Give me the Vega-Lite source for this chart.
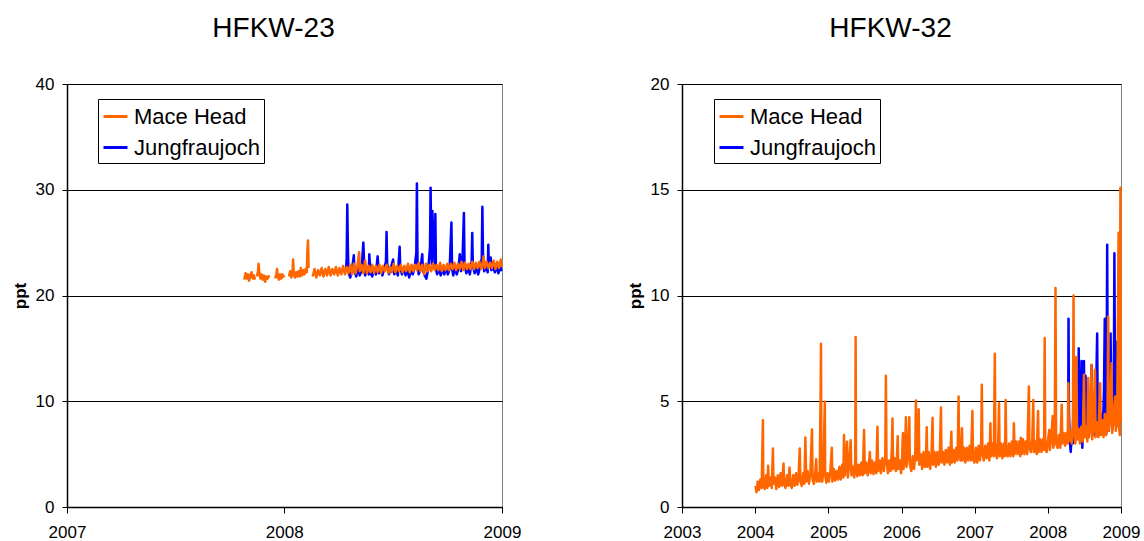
{
"$schema":"https://vega.github.io/schema/vega-lite/v6.json",
"padding":{"left":10,"top":14,"right":0,"bottom":0},
"bounds":"flush",
"spacing":180,
"config":{"font":"Liberation Sans","view":{"stroke":"#808080","strokeWidth":1},"axis":{"labelColor":"#000","titleColor":"#000","domainColor":"#000","tickColor":"#000","gridColor":"#000","gridWidth":1,"domainWidth":1.5,"labelFontSize":17,"titleFontSize":17},"title":{"color":"#000"}},
"resolve":{"scale":{"color":"independent"}},
"datasets":{
"mh23":[
{"t":"2007-10-26","v":21.5,"g":1},{"t":"2007-10-28","v":22.1,"g":1},{"t":"2007-10-30","v":21.6,"g":1},{"t":"2007-11-01","v":22.0,"g":1},{"t":"2007-11-03","v":21.4,"g":1},{"t":"2007-11-05","v":21.9,"g":1},{"t":"2007-11-07","v":22.2,"g":1},{"t":"2007-11-09","v":21.6,"g":1},{"t":"2007-11-11","v":21.9,"g":1},{"t":"2007-11-13","v":21.5,"g":1},
{"t":"2007-11-16","v":21.8,"g":2},{"t":"2007-11-18","v":22.3,"g":2},{"t":"2007-11-19","v":23.0,"g":2},{"t":"2007-11-20","v":22.2,"g":2},{"t":"2007-11-22","v":21.6,"g":2},{"t":"2007-11-24","v":22.0,"g":2},{"t":"2007-11-26","v":21.5,"g":2},{"t":"2007-11-28","v":21.9,"g":2},{"t":"2007-11-30","v":21.3,"g":2},{"t":"2007-12-02","v":21.8,"g":2},{"t":"2007-12-04","v":21.6,"g":2},{"t":"2007-12-07","v":21.9,"g":2},
{"t":"2007-12-17","v":21.6,"g":3},{"t":"2007-12-19","v":22.1,"g":3},{"t":"2007-12-20","v":22.5,"g":3},{"t":"2007-12-21","v":21.9,"g":3},{"t":"2007-12-23","v":21.5,"g":3},{"t":"2007-12-25","v":22.0,"g":3},{"t":"2007-12-27","v":21.6,"g":3},{"t":"2007-12-29","v":22.0,"g":3},{"t":"2008-01-01","v":21.7,"g":3},
{"t":"2008-01-09","v":21.8,"g":4},{"t":"2008-01-11","v":22.3,"g":4},{"t":"2008-01-13","v":21.7,"g":4},{"t":"2008-01-15","v":22.2,"g":4},{"t":"2008-01-16","v":23.4,"g":4},{"t":"2008-01-17","v":22.1,"g":4},{"t":"2008-01-19","v":21.7,"g":4},{"t":"2008-01-21","v":22.2,"g":4},{"t":"2008-01-23","v":21.8,"g":4},{"t":"2008-01-25","v":22.3,"g":4},{"t":"2008-01-27","v":21.8,"g":4},{"t":"2008-01-29","v":22.6,"g":4},{"t":"2008-01-31","v":21.9,"g":4},{"t":"2008-02-02","v":22.4,"g":4},{"t":"2008-02-04","v":22.0,"g":4},{"t":"2008-02-06","v":22.5,"g":4},{"t":"2008-02-08","v":22.2,"g":4},{"t":"2008-02-09","v":24.2,"g":4},{"t":"2008-02-10","v":25.2,"g":4},{"t":"2008-02-11","v":22.6,"g":4},
{"t":"2008-02-18","v":21.8,"g":5},{"t":"2008-02-21","v":22.5,"g":5},{"t":"2008-02-24","v":21.7,"g":5},{"t":"2008-02-27","v":22.4,"g":5},{"t":"2008-03-01","v":21.9,"g":5},{"t":"2008-03-04","v":22.6,"g":5},{"t":"2008-03-07","v":21.8,"g":5},{"t":"2008-03-10","v":22.5,"g":5},{"t":"2008-03-13","v":21.9,"g":5},{"t":"2008-03-16","v":22.7,"g":5},{"t":"2008-03-19","v":21.9,"g":5},{"t":"2008-03-22","v":22.5,"g":5},{"t":"2008-03-25","v":22.0,"g":5},{"t":"2008-03-28","v":22.7,"g":5},{"t":"2008-03-31","v":21.9,"g":5},{"t":"2008-04-03","v":22.6,"g":5},{"t":"2008-04-06","v":22.0,"g":5},{"t":"2008-04-09","v":22.8,"g":5},{"t":"2008-04-12","v":22.0,"g":5},{"t":"2008-04-15","v":22.7,"g":5},{"t":"2008-04-18","v":22.1,"g":5},{"t":"2008-04-21","v":22.9,"g":5},{"t":"2008-04-24","v":22.0,"g":5},{"t":"2008-04-27","v":23.0,"g":5},{"t":"2008-04-30","v":22.1,"g":5},{"t":"2008-05-03","v":22.8,"g":5},{"t":"2008-05-06","v":24.1,"g":5},{"t":"2008-05-07","v":22.3,"g":5},{"t":"2008-05-10","v":22.9,"g":5},{"t":"2008-05-13","v":22.1,"g":5},{"t":"2008-05-16","v":23.3,"g":5},{"t":"2008-05-19","v":22.1,"g":5},{"t":"2008-05-22","v":22.8,"g":5},{"t":"2008-05-25","v":22.2,"g":5},{"t":"2008-05-28","v":22.9,"g":5},{"t":"2008-05-31","v":22.1,"g":5},{"t":"2008-06-03","v":22.8,"g":5},{"t":"2008-06-06","v":22.2,"g":5},{"t":"2008-06-09","v":22.9,"g":5},{"t":"2008-06-12","v":22.1,"g":5},{"t":"2008-06-15","v":22.8,"g":5},{"t":"2008-06-18","v":22.3,"g":5},{"t":"2008-06-21","v":22.9,"g":5},{"t":"2008-06-24","v":22.1,"g":5},{"t":"2008-06-27","v":22.7,"g":5},{"t":"2008-06-30","v":22.2,"g":5},{"t":"2008-07-03","v":23.0,"g":5},{"t":"2008-07-06","v":22.2,"g":5},{"t":"2008-07-09","v":22.8,"g":5},{"t":"2008-07-12","v":22.3,"g":5},{"t":"2008-07-15","v":22.9,"g":5},{"t":"2008-07-18","v":22.2,"g":5},{"t":"2008-07-21","v":22.8,"g":5},{"t":"2008-07-24","v":22.3,"g":5},{"t":"2008-07-27","v":23.0,"g":5},{"t":"2008-07-30","v":22.2,"g":5},{"t":"2008-08-02","v":22.9,"g":5},{"t":"2008-08-05","v":22.3,"g":5},{"t":"2008-08-08","v":22.9,"g":5},{"t":"2008-08-11","v":22.4,"g":5},{"t":"2008-08-14","v":23.1,"g":5},{"t":"2008-08-17","v":22.3,"g":5},{"t":"2008-08-20","v":22.9,"g":5},{"t":"2008-08-23","v":22.0,"g":5},{"t":"2008-08-26","v":23.0,"g":5},{"t":"2008-08-29","v":22.3,"g":5},{"t":"2008-09-01","v":22.9,"g":5},{"t":"2008-09-04","v":22.3,"g":5},{"t":"2008-09-07","v":23.0,"g":5},{"t":"2008-09-10","v":22.4,"g":5},{"t":"2008-09-13","v":22.9,"g":5},{"t":"2008-09-16","v":22.4,"g":5},{"t":"2008-09-19","v":23.1,"g":5},{"t":"2008-09-22","v":22.3,"g":5},{"t":"2008-09-25","v":22.9,"g":5},{"t":"2008-09-28","v":22.4,"g":5},{"t":"2008-10-01","v":23.0,"g":5},{"t":"2008-10-04","v":22.4,"g":5},{"t":"2008-10-07","v":23.0,"g":5},{"t":"2008-10-10","v":22.5,"g":5},{"t":"2008-10-13","v":23.1,"g":5},{"t":"2008-10-16","v":22.4,"g":5},{"t":"2008-10-19","v":23.0,"g":5},{"t":"2008-10-22","v":22.5,"g":5},{"t":"2008-10-25","v":23.2,"g":5},{"t":"2008-10-28","v":22.4,"g":5},{"t":"2008-10-31","v":23.1,"g":5},{"t":"2008-11-03","v":22.5,"g":5},{"t":"2008-11-06","v":23.0,"g":5},{"t":"2008-11-09","v":22.5,"g":5},{"t":"2008-11-12","v":23.2,"g":5},{"t":"2008-11-15","v":22.5,"g":5},{"t":"2008-11-18","v":23.1,"g":5},{"t":"2008-11-21","v":22.6,"g":5},{"t":"2008-11-24","v":23.2,"g":5},{"t":"2008-11-27","v":22.5,"g":5},{"t":"2008-11-30","v":23.2,"g":5},{"t":"2008-12-01","v":23.7,"g":5},{"t":"2008-12-03","v":22.6,"g":5},{"t":"2008-12-06","v":23.2,"g":5},{"t":"2008-12-09","v":22.6,"g":5},{"t":"2008-12-12","v":23.1,"g":5},{"t":"2008-12-15","v":22.6,"g":5},{"t":"2008-12-18","v":23.3,"g":5},{"t":"2008-12-21","v":22.5,"g":5},{"t":"2008-12-24","v":23.2,"g":5},{"t":"2008-12-27","v":22.6,"g":5},{"t":"2008-12-30","v":23.4,"g":5},{"t":"2008-12-31","v":22.7,"g":5}
],
"jf23":[
{"t":"2008-04-14","v":22.6},{"t":"2008-04-15","v":23.5},{"t":"2008-04-16","v":28.6},{"t":"2008-04-17","v":24.5},{"t":"2008-04-18","v":22.2},{"t":"2008-04-21","v":21.7},{"t":"2008-04-24","v":22.5},{"t":"2008-04-27","v":23.8},{"t":"2008-04-28","v":22.3},{"t":"2008-05-01","v":21.8},{"t":"2008-05-04","v":22.6},{"t":"2008-05-07","v":21.9},{"t":"2008-05-10","v":22.4},{"t":"2008-05-13","v":25.0},{"t":"2008-05-14","v":23.5},{"t":"2008-05-16","v":21.9},{"t":"2008-05-19","v":22.5},{"t":"2008-05-22","v":22.0},{"t":"2008-05-23","v":23.9},{"t":"2008-05-25","v":22.1},{"t":"2008-05-28","v":21.8},{"t":"2008-05-31","v":22.5},{"t":"2008-06-03","v":22.0},{"t":"2008-06-06","v":23.7},{"t":"2008-06-08","v":22.1},{"t":"2008-06-11","v":22.6},{"t":"2008-06-14","v":21.9},{"t":"2008-06-17","v":22.5},{"t":"2008-06-20","v":23.2},{"t":"2008-06-21","v":26.0},{"t":"2008-06-22","v":23.0},{"t":"2008-06-25","v":22.0},{"t":"2008-06-28","v":22.6},{"t":"2008-07-02","v":23.4},{"t":"2008-07-04","v":22.0},{"t":"2008-07-07","v":22.5},{"t":"2008-07-10","v":21.9},{"t":"2008-07-13","v":24.6},{"t":"2008-07-14","v":22.6},{"t":"2008-07-17","v":22.0},{"t":"2008-07-20","v":22.6},{"t":"2008-07-23","v":21.9},{"t":"2008-07-26","v":22.5},{"t":"2008-07-29","v":21.7},{"t":"2008-08-01","v":22.4},{"t":"2008-08-04","v":22.0},{"t":"2008-08-07","v":22.6},{"t":"2008-08-10","v":24.0},{"t":"2008-08-11","v":30.6},{"t":"2008-08-12","v":23.2},{"t":"2008-08-14","v":22.0},{"t":"2008-08-17","v":22.5},{"t":"2008-08-20","v":23.9},{"t":"2008-08-21","v":22.4},{"t":"2008-08-24","v":21.9},{"t":"2008-08-27","v":21.6},{"t":"2008-08-30","v":22.5},{"t":"2008-09-02","v":24.5},{"t":"2008-09-03","v":30.2},{"t":"2008-09-04","v":25.0},{"t":"2008-09-05","v":23.0},{"t":"2008-09-06","v":28.0},{"t":"2008-09-08","v":24.5},{"t":"2008-09-10","v":23.0},{"t":"2008-09-11","v":27.7},{"t":"2008-09-12","v":22.5},{"t":"2008-09-14","v":22.0},{"t":"2008-09-17","v":22.6},{"t":"2008-09-20","v":21.9},{"t":"2008-09-23","v":22.5},{"t":"2008-09-26","v":22.0},{"t":"2008-09-29","v":22.6},{"t":"2008-10-02","v":22.0},{"t":"2008-10-05","v":22.5},{"t":"2008-10-08","v":26.9},{"t":"2008-10-09","v":22.6},{"t":"2008-10-11","v":21.9},{"t":"2008-10-14","v":22.6},{"t":"2008-10-17","v":22.0},{"t":"2008-10-20","v":22.6},{"t":"2008-10-22","v":23.9},{"t":"2008-10-24","v":22.3},{"t":"2008-10-27","v":24.0},{"t":"2008-10-29","v":27.8},{"t":"2008-10-30","v":23.0},{"t":"2008-11-02","v":22.1},{"t":"2008-11-05","v":22.6},{"t":"2008-11-08","v":22.0},{"t":"2008-11-11","v":23.3},{"t":"2008-11-12","v":25.9},{"t":"2008-11-13","v":22.8},{"t":"2008-11-16","v":22.1},{"t":"2008-11-19","v":22.6},{"t":"2008-11-22","v":22.0},{"t":"2008-11-25","v":22.7},{"t":"2008-11-28","v":23.5},{"t":"2008-11-29","v":28.4},{"t":"2008-11-30","v":24.0},{"t":"2008-12-02","v":22.3},{"t":"2008-12-05","v":22.7},{"t":"2008-12-08","v":22.2},{"t":"2008-12-09","v":24.8},{"t":"2008-12-10","v":22.7},{"t":"2008-12-13","v":23.6},{"t":"2008-12-14","v":22.4},{"t":"2008-12-17","v":22.7},{"t":"2008-12-20","v":22.2},{"t":"2008-12-23","v":22.7},{"t":"2008-12-26","v":22.1},{"t":"2008-12-29","v":22.8},{"t":"2008-12-31","v":22.3}
],
"mh32":[
{"t":"2004-01-03","v":1.0},{"t":"2004-01-08","v":0.7},{"t":"2004-01-14","v":1.2},{"t":"2004-01-20","v":0.8},{"t":"2004-01-27","v":1.3},{"t":"2004-02-03","v":0.9},{"t":"2004-02-09","v":4.1},{"t":"2004-02-11","v":1.2},{"t":"2004-02-18","v":0.85},{"t":"2004-02-25","v":1.5},{"t":"2004-03-02","v":0.9},{"t":"2004-03-06","v":1.95},{"t":"2004-03-10","v":1.0},{"t":"2004-03-17","v":1.4},{"t":"2004-03-24","v":0.9},{"t":"2004-03-30","v":2.77},{"t":"2004-04-02","v":1.1},{"t":"2004-04-09","v":1.4},{"t":"2004-04-16","v":0.85},{"t":"2004-04-23","v":1.5},{"t":"2004-04-30","v":0.95},{"t":"2004-05-07","v":1.6},{"t":"2004-05-14","v":1.0},{"t":"2004-05-22","v":2.06},{"t":"2004-05-25","v":1.1},{"t":"2004-06-01","v":0.9},{"t":"2004-06-08","v":1.5},{"t":"2004-06-15","v":1.0},{"t":"2004-06-21","v":1.87},{"t":"2004-06-25","v":1.1},{"t":"2004-07-02","v":0.9},{"t":"2004-07-09","v":1.5},{"t":"2004-07-16","v":1.0},{"t":"2004-07-23","v":1.6},{"t":"2004-07-30","v":1.05},{"t":"2004-08-05","v":1.5},{"t":"2004-08-11","v":2.77},{"t":"2004-08-14","v":1.2},{"t":"2004-08-21","v":1.0},{"t":"2004-08-28","v":1.6},{"t":"2004-09-03","v":1.1},{"t":"2004-09-08","v":3.29},{"t":"2004-09-12","v":1.2},{"t":"2004-09-19","v":1.7},{"t":"2004-09-26","v":1.1},{"t":"2004-10-03","v":1.6},{"t":"2004-10-11","v":3.67},{"t":"2004-10-14","v":1.3},{"t":"2004-10-21","v":1.1},{"t":"2004-10-28","v":1.7},{"t":"2004-11-01","v":2.26},{"t":"2004-11-05","v":1.2},{"t":"2004-11-12","v":1.6},{"t":"2004-11-18","v":1.2},{"t":"2004-11-23","v":5.2},{"t":"2004-11-25","v":7.72},{"t":"2004-11-27","v":2.0},{"t":"2004-12-01","v":1.2},{"t":"2004-12-07","v":1.7},{"t":"2004-12-14","v":4.98},{"t":"2004-12-16","v":1.5},{"t":"2004-12-22","v":1.15},{"t":"2004-12-28","v":1.6},
{"t":"2005-01-04","v":1.2},{"t":"2005-01-11","v":1.7},{"t":"2005-01-18","v":2.8},{"t":"2005-01-21","v":1.2},{"t":"2005-01-28","v":1.8},{"t":"2005-02-04","v":1.25},{"t":"2005-02-11","v":1.7},{"t":"2005-02-18","v":1.3},{"t":"2005-02-25","v":1.9},{"t":"2005-03-04","v":1.3},{"t":"2005-03-11","v":2.0},{"t":"2005-03-17","v":1.4},{"t":"2005-03-20","v":3.4},{"t":"2005-03-24","v":1.5},{"t":"2005-03-30","v":2.0},{"t":"2005-04-04","v":3.09},{"t":"2005-04-08","v":1.4},{"t":"2005-04-15","v":2.0},{"t":"2005-04-22","v":3.16},{"t":"2005-04-26","v":1.5},{"t":"2005-05-03","v":1.9},{"t":"2005-05-10","v":1.4},{"t":"2005-05-15","v":2.2},{"t":"2005-05-17","v":8.04},{"t":"2005-05-19","v":2.0},{"t":"2005-05-25","v":1.45},{"t":"2005-06-01","v":2.0},{"t":"2005-06-08","v":1.5},{"t":"2005-06-15","v":2.1},{"t":"2005-06-22","v":1.5},{"t":"2005-06-28","v":3.64},{"t":"2005-07-02","v":1.6},{"t":"2005-07-09","v":2.1},{"t":"2005-07-16","v":1.5},{"t":"2005-07-22","v":2.0},{"t":"2005-07-27","v":2.6},{"t":"2005-07-31","v":1.6},{"t":"2005-08-07","v":2.2},{"t":"2005-08-14","v":1.55},{"t":"2005-08-21","v":2.1},{"t":"2005-08-28","v":1.6},{"t":"2005-09-03","v":3.8},{"t":"2005-09-06","v":1.7},{"t":"2005-09-13","v":2.2},{"t":"2005-09-20","v":1.6},{"t":"2005-09-27","v":2.3},{"t":"2005-10-05","v":1.7},{"t":"2005-10-12","v":2.4},{"t":"2005-10-15","v":6.2},{"t":"2005-10-18","v":2.3},{"t":"2005-10-25","v":1.6},{"t":"2005-11-01","v":2.2},{"t":"2005-11-08","v":1.7},{"t":"2005-11-14","v":2.8},{"t":"2005-11-17","v":4.19},{"t":"2005-11-20","v":1.8},{"t":"2005-11-27","v":2.3},{"t":"2005-12-04","v":1.7},{"t":"2005-12-10","v":2.5},{"t":"2005-12-13","v":3.35},{"t":"2005-12-16","v":1.8},{"t":"2005-12-23","v":2.2},{"t":"2005-12-30","v":1.6},
{"t":"2006-01-04","v":2.3},{"t":"2006-01-08","v":3.5},{"t":"2006-01-11","v":1.8},{"t":"2006-01-18","v":2.4},{"t":"2006-01-23","v":4.24},{"t":"2006-01-26","v":1.9},{"t":"2006-02-02","v":2.5},{"t":"2006-02-09","v":4.24},{"t":"2006-02-12","v":2.0},{"t":"2006-02-19","v":1.7},{"t":"2006-02-26","v":2.4},{"t":"2006-03-05","v":1.8},{"t":"2006-03-11","v":2.6},{"t":"2006-03-14","v":5.03},{"t":"2006-03-17","v":2.2},{"t":"2006-03-24","v":2.5},{"t":"2006-03-28","v":4.62},{"t":"2006-03-31","v":2.0},{"t":"2006-04-07","v":2.5},{"t":"2006-04-14","v":1.8},{"t":"2006-04-21","v":2.6},{"t":"2006-04-28","v":1.9},{"t":"2006-05-04","v":2.5},{"t":"2006-05-07","v":3.77},{"t":"2006-05-10","v":1.9},{"t":"2006-05-17","v":2.6},{"t":"2006-05-24","v":1.8},{"t":"2006-05-31","v":2.5},{"t":"2006-06-05","v":4.22},{"t":"2006-06-08","v":2.0},{"t":"2006-06-15","v":2.6},{"t":"2006-06-22","v":1.9},{"t":"2006-06-29","v":2.6},{"t":"2006-07-06","v":2.0},{"t":"2006-07-12","v":2.7},{"t":"2006-07-17","v":4.7},{"t":"2006-07-20","v":2.1},{"t":"2006-07-27","v":2.6},{"t":"2006-08-03","v":2.0},{"t":"2006-08-10","v":2.7},{"t":"2006-08-17","v":2.1},{"t":"2006-08-24","v":2.8},{"t":"2006-08-31","v":2.0},{"t":"2006-09-07","v":3.56},{"t":"2006-09-10","v":2.1},{"t":"2006-09-17","v":2.7},{"t":"2006-09-24","v":2.1},{"t":"2006-10-01","v":2.8},{"t":"2006-10-08","v":2.2},{"t":"2006-10-13","v":5.22},{"t":"2006-10-16","v":2.6},{"t":"2006-10-23","v":2.2},{"t":"2006-10-30","v":3.72},{"t":"2006-11-02","v":2.2},{"t":"2006-11-09","v":2.8},{"t":"2006-11-16","v":2.1},{"t":"2006-11-23","v":2.8},{"t":"2006-11-30","v":2.2},{"t":"2006-12-07","v":2.9},{"t":"2006-12-14","v":2.2},{"t":"2006-12-21","v":4.54},{"t":"2006-12-24","v":2.3},{"t":"2006-12-31","v":2.1},
{"t":"2007-01-07","v":2.8},{"t":"2007-01-14","v":2.1},{"t":"2007-01-21","v":2.9},{"t":"2007-01-28","v":2.2},{"t":"2007-02-03","v":3.1},{"t":"2007-02-06","v":5.78},{"t":"2007-02-09","v":2.6},{"t":"2007-02-16","v":2.2},{"t":"2007-02-23","v":2.9},{"t":"2007-03-02","v":2.3},{"t":"2007-03-09","v":3.0},{"t":"2007-03-16","v":2.2},{"t":"2007-03-21","v":3.96},{"t":"2007-03-24","v":2.4},{"t":"2007-03-31","v":3.0},{"t":"2007-04-07","v":2.4},{"t":"2007-04-12","v":7.25},{"t":"2007-04-15","v":2.8},{"t":"2007-04-22","v":2.3},{"t":"2007-04-29","v":3.1},{"t":"2007-05-03","v":4.9},{"t":"2007-05-06","v":2.4},{"t":"2007-05-13","v":3.0},{"t":"2007-05-20","v":2.3},{"t":"2007-05-27","v":3.0},{"t":"2007-06-02","v":2.4},{"t":"2007-06-05","v":5.06},{"t":"2007-06-08","v":2.8},{"t":"2007-06-15","v":2.4},{"t":"2007-06-22","v":3.0},{"t":"2007-06-29","v":2.4},{"t":"2007-07-06","v":3.1},{"t":"2007-07-13","v":2.4},{"t":"2007-07-16","v":3.96},{"t":"2007-07-20","v":2.5},{"t":"2007-07-27","v":3.1},{"t":"2007-08-03","v":2.5},{"t":"2007-08-10","v":3.1},{"t":"2007-08-17","v":2.4},{"t":"2007-08-20","v":3.28},{"t":"2007-08-24","v":2.5},{"t":"2007-08-31","v":3.2},{"t":"2007-09-07","v":2.5},{"t":"2007-09-14","v":3.1},{"t":"2007-09-21","v":2.5},{"t":"2007-09-29","v":5.7},{"t":"2007-10-02","v":2.8},{"t":"2007-10-09","v":2.6},{"t":"2007-10-16","v":3.2},{"t":"2007-10-21","v":5.06},{"t":"2007-10-24","v":2.6},{"t":"2007-10-31","v":3.1},{"t":"2007-11-07","v":2.5},{"t":"2007-11-14","v":4.54},{"t":"2007-11-17","v":2.6},{"t":"2007-11-24","v":3.2},{"t":"2007-12-01","v":2.6},{"t":"2007-12-08","v":3.2},{"t":"2007-12-14","v":2.7},{"t":"2007-12-17","v":7.99},{"t":"2007-12-20","v":2.8},{"t":"2007-12-27","v":2.6},
{"t":"2008-01-03","v":3.2},{"t":"2008-01-09","v":3.64},{"t":"2008-01-12","v":2.7},{"t":"2008-01-19","v":3.3},{"t":"2008-01-26","v":4.3},{"t":"2008-01-29","v":2.8},{"t":"2008-02-05","v":3.3},{"t":"2008-02-09","v":10.36},{"t":"2008-02-12","v":3.0},{"t":"2008-02-19","v":2.8},{"t":"2008-02-26","v":3.4},{"t":"2008-03-04","v":2.8},{"t":"2008-03-11","v":4.83},{"t":"2008-03-14","v":3.0},{"t":"2008-03-21","v":3.5},{"t":"2008-03-28","v":2.9},{"t":"2008-04-04","v":3.5},{"t":"2008-04-10","v":3.0},{"t":"2008-04-13","v":5.85},{"t":"2008-04-16","v":3.1},{"t":"2008-04-23","v":3.6},{"t":"2008-04-30","v":3.0},{"t":"2008-05-06","v":4.2},{"t":"2008-05-09","v":10.0},{"t":"2008-05-12","v":3.5},{"t":"2008-05-18","v":3.0},{"t":"2008-05-23","v":7.09},{"t":"2008-05-27","v":3.2},{"t":"2008-06-03","v":3.7},{"t":"2008-06-10","v":3.0},{"t":"2008-06-17","v":3.8},{"t":"2008-06-24","v":3.1},{"t":"2008-06-30","v":6.25},{"t":"2008-07-04","v":3.3},{"t":"2008-07-11","v":3.8},{"t":"2008-07-17","v":3.1},{"t":"2008-07-21","v":6.1},{"t":"2008-07-25","v":3.3},{"t":"2008-08-01","v":3.9},{"t":"2008-08-07","v":6.72},{"t":"2008-08-10","v":3.2},{"t":"2008-08-17","v":3.9},{"t":"2008-08-24","v":6.49},{"t":"2008-08-27","v":3.3},{"t":"2008-09-03","v":4.0},{"t":"2008-09-10","v":3.3},{"t":"2008-09-19","v":5.85},{"t":"2008-09-22","v":3.4},{"t":"2008-09-29","v":4.1},{"t":"2008-10-06","v":3.3},{"t":"2008-10-12","v":4.4},{"t":"2008-10-19","v":3.4},{"t":"2008-10-26","v":4.5},{"t":"2008-10-29","v":8.99},{"t":"2008-11-01","v":3.6},{"t":"2008-11-08","v":4.3},{"t":"2008-11-15","v":6.8},{"t":"2008-11-18","v":3.5},{"t":"2008-11-25","v":4.2},{"t":"2008-12-03","v":5.22},{"t":"2008-12-06","v":3.6},{"t":"2008-12-13","v":4.3},{"t":"2008-12-20","v":12.97},{"t":"2008-12-22","v":3.8},{"t":"2008-12-26","v":3.4},{"t":"2008-12-29","v":15.1},{"t":"2008-12-31","v":4.0}
],
"jf32":[
{"t":"2008-04-13","v":5.8},{"t":"2008-04-14","v":8.9},{"t":"2008-04-16","v":4.5},{"t":"2008-04-20","v":3.2},{"t":"2008-04-25","v":2.6},{"t":"2008-04-30","v":3.5},{"t":"2008-05-05","v":3.0},{"t":"2008-05-10","v":3.8},{"t":"2008-05-15","v":3.1},{"t":"2008-05-20","v":3.9},{"t":"2008-05-25","v":3.2},{"t":"2008-06-01","v":5.0},{"t":"2008-06-04","v":7.5},{"t":"2008-06-07","v":3.3},{"t":"2008-06-12","v":3.1},{"t":"2008-06-18","v":6.9},{"t":"2008-06-22","v":2.8},{"t":"2008-06-30","v":6.9},{"t":"2008-07-03","v":3.5},{"t":"2008-07-08","v":6.2},{"t":"2008-07-12","v":3.4},{"t":"2008-07-18","v":3.9},{"t":"2008-07-24","v":3.3},{"t":"2008-07-30","v":4.0},{"t":"2008-08-07","v":6.7},{"t":"2008-08-10","v":3.5},{"t":"2008-08-16","v":4.0},{"t":"2008-08-22","v":3.4},{"t":"2008-08-28","v":4.5},{"t":"2008-09-04","v":8.2},{"t":"2008-09-07","v":3.6},{"t":"2008-09-13","v":4.2},{"t":"2008-09-18","v":3.5},{"t":"2008-09-25","v":4.4},{"t":"2008-10-02","v":3.6},{"t":"2008-10-08","v":5.5},{"t":"2008-10-12","v":8.9},{"t":"2008-10-16","v":4.0},{"t":"2008-10-20","v":3.5},{"t":"2008-10-24","v":12.4},{"t":"2008-10-27","v":4.5},{"t":"2008-11-01","v":3.6},{"t":"2008-11-06","v":5.0},{"t":"2008-11-10","v":8.2},{"t":"2008-11-14","v":4.2},{"t":"2008-11-20","v":3.7},{"t":"2008-11-26","v":5.2},{"t":"2008-11-29","v":12.0},{"t":"2008-12-03","v":4.0},{"t":"2008-12-08","v":3.8},{"t":"2008-12-11","v":7.8},{"t":"2008-12-15","v":4.2},{"t":"2008-12-20","v":6.9},{"t":"2008-12-25","v":3.9},{"t":"2008-12-31","v":4.2}
]
},
"hconcat":[
{
"width":435,"height":423,
"title":{"text":"HFKW-23","fontSize":28,"fontWeight":"normal","frame":"group","anchor":"middle","dx":-11,"offset":10,"baseline":"alphabetic"},
"layer":[
{"data":{"name":"jf23"},"mark":{"type":"line","strokeWidth":2.5,"strokeJoin":"round"},
"encoding":{
"x":{"field":"t","type":"temporal","scale":{"type":"utc","domain":[{"year":2007,"month":1,"date":1,"utc":true},{"year":2009,"month":1,"date":1,"utc":true}]},"axis":{"title":null,"values":[{"year":2007,"month":1,"date":1,"utc":true},{"year":2008,"month":1,"date":1,"utc":true},{"year":2009,"month":1,"date":1,"utc":true}],"format":"%Y","grid":false,"tickSize":6,"labelPadding":11,"labelFlush":false,"labelOverlap":false}},
"y":{"field":"v","type":"quantitative","scale":{"domain":[0,40],"nice":false},"axis":{"title":"ppt","titleFontWeight":"bold","titlePadding":6,"values":[0,10,20,30,40],"grid":true,"tickSize":5,"labelPadding":8}},
"color":{"datum":"Jungfraujoch","type":"nominal","scale":{"domain":["Mace Head","Jungfraujoch"],"range":["#FF6600","#0000FF"]},"legend":{"title":null,"orient":"none","legendX":31,"legendY":15,"symbolType":"stroke","symbolSize":576,"symbolStrokeWidth":3,"labelFontSize":22,"labelColor":"#000","padding":4,"rowPadding":6,"strokeColor":"#000","fillColor":"#fff","labelOffset":5,"labelLimit":300}}
}},
{"data":{"name":"mh23"},"mark":{"type":"line","strokeWidth":2.5,"strokeJoin":"round"},
"encoding":{
"x":{"field":"t","type":"temporal"},
"y":{"field":"v","type":"quantitative"},
"detail":{"field":"g","type":"nominal"},
"color":{"datum":"Mace Head","type":"nominal"}
}}
]
},
{
"width":439,"height":423,
"title":{"text":"HFKW-32","fontSize":28,"fontWeight":"normal","frame":"group","anchor":"middle","dx":-11,"offset":10,"baseline":"alphabetic"},
"layer":[
{"data":{"name":"jf32"},"mark":{"type":"line","strokeWidth":2.5,"strokeJoin":"round"},
"encoding":{
"x":{"field":"t","type":"temporal","scale":{"type":"utc","domain":[{"year":2003,"month":1,"date":1,"utc":true},{"year":2009,"month":1,"date":1,"utc":true}]},"axis":{"title":null,"values":[{"year":2003,"month":1,"date":1,"utc":true},{"year":2004,"month":1,"date":1,"utc":true},{"year":2005,"month":1,"date":1,"utc":true},{"year":2006,"month":1,"date":1,"utc":true},{"year":2007,"month":1,"date":1,"utc":true},{"year":2008,"month":1,"date":1,"utc":true},{"year":2009,"month":1,"date":1,"utc":true}],"format":"%Y","grid":false,"tickSize":6,"labelPadding":11,"labelFlush":false,"labelOverlap":false}},
"y":{"field":"v","type":"quantitative","scale":{"domain":[0,20],"nice":false},"axis":{"title":"ppt","titleFontWeight":"bold","titlePadding":6,"values":[0,5,10,15,20],"grid":true,"tickSize":5,"labelPadding":8}},
"color":{"datum":"Jungfraujoch","type":"nominal","scale":{"domain":["Mace Head","Jungfraujoch"],"range":["#FF6600","#0000FF"]},"legend":{"title":null,"orient":"none","legendX":32,"legendY":15,"symbolType":"stroke","symbolSize":576,"symbolStrokeWidth":3,"labelFontSize":22,"labelColor":"#000","padding":4,"rowPadding":6,"strokeColor":"#000","fillColor":"#fff","labelOffset":5,"labelLimit":300}}
}},
{"data":{"name":"mh32"},"mark":{"type":"line","strokeWidth":2.5,"strokeJoin":"round"},
"encoding":{
"x":{"field":"t","type":"temporal"},
"y":{"field":"v","type":"quantitative"},
"color":{"datum":"Mace Head","type":"nominal"}
}}
]
}
]
}
